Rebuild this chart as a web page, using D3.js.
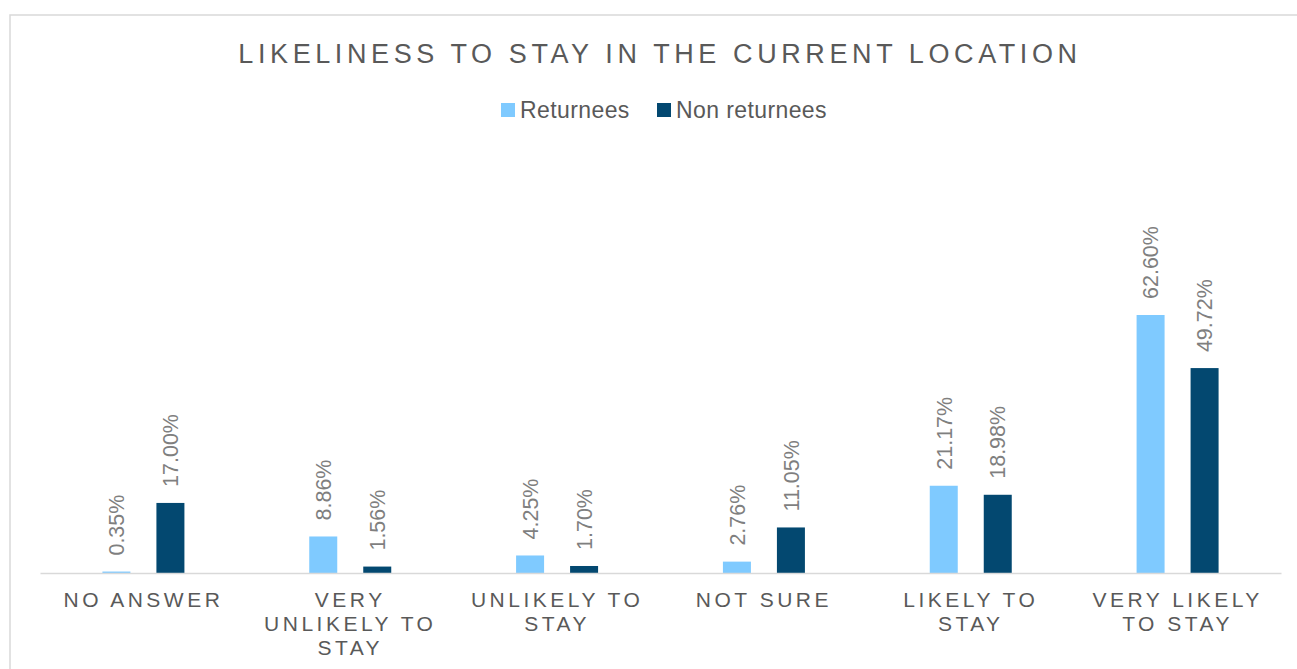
<!DOCTYPE html>
<html>
<head>
<meta charset="utf-8">
<script src="https://cdn.jsdelivr.net/npm/d3@7"></script>
<style>
  html, body { margin: 0; padding: 0; background: #fff; }
  svg { display: block; font-family: "Liberation Sans", Arial, sans-serif; }
</style>
</head>
<body>
<svg id="chart" width="1297" height="669"></svg>
<script>
// Survey answers: how likely respondents are to stay where they live now
const categories = ["NO ANSWER", "VERY UNLIKELY TO STAY", "UNLIKELY TO STAY", "NOT SURE", "LIKELY TO STAY", "VERY LIKELY TO STAY"];
const seriesNames = ["Returnees", "Non returnees"];
const returnees = [0.35, 8.86, 4.25, 2.76, 21.17, 62.60];
const nonReturnees = [17.00, 1.56, 1.70, 11.05, 18.98, 49.72];
const seriesColors = ["#7fcaff", "#034870"];

const svg = d3.select("#chart");
const W = 1297, H = 669;

// Outer frame of the chart area
svg.append("rect")
  .attr("x", 10).attr("y", 15)
  .attr("width", W + 20).attr("height", H + 20)
  .attr("fill", "#fff")
  .attr("stroke", "#d9d9d9").attr("stroke-width", 1.5);

// Title
svg.append("text")
  .attr("x", 660).attr("y", 63)
  .attr("text-anchor", "middle")
  .attr("fill", "#595959")
  .attr("font-size", 27)
  .attr("letter-spacing", 4.6)
  .text("LIKELINESS TO STAY IN THE CURRENT LOCATION");

// Scales
const x0 = d3.scaleBand().domain(categories).range([40, 1281]);
const x1 = d3.scaleBand().domain(seriesNames).range([0, x0.bandwidth()])
  .paddingInner(0.4815).paddingOuter(1.156);
const y = d3.scaleLinear().domain([0, 70]).range([573, 284.5]);

const rows = categories.map((c, i) => ({
  category: c,
  values: [
    { name: seriesNames[0], value: returnees[i] },
    { name: seriesNames[1], value: nonReturnees[i] }
  ]
}));
const color = d3.scaleOrdinal().domain(seriesNames).range(seriesColors);

const groups = svg.append("g").selectAll("g")
  .data(rows).join("g")
  .attr("transform", d => `translate(${x0(d.category)},0)`);

groups.selectAll("rect")
  .data(d => d.values).join("rect")
  .attr("x", d => x1(d.name))
  .attr("width", x1.bandwidth())
  .attr("y", d => y(d.value))
  .attr("height", d => y(0) - y(d.value))
  .attr("fill", d => color(d.name));

// Value labels, rotated above each bar
groups.selectAll("text")
  .data(d => d.values).join("text")
  .attr("transform", d => `translate(${x1(d.name) + x1.bandwidth() / 2},${y(d.value) - 16}) rotate(-90)`)
  .attr("dy", "0.36em")
  .attr("text-anchor", "start")
  .attr("fill", "#7f7f7f")
  .attr("font-size", 21.5)
  .text(d => d.value.toFixed(2) + "%");

// Category axis
const xAxis = svg.append("g")
  .attr("transform", `translate(0,${y(0)})`)
  .call(d3.axisBottom(x0).tickSize(0).tickPadding(0));
xAxis.select(".domain").attr("stroke", "#d9d9d9").attr("stroke-width", 1.5);
xAxis.selectAll(".tick text").remove();

// Wrapped category labels
const labelWidth = 190;
xAxis.selectAll(".tick").each(function (d) {
  const g = d3.select(this);
  const t = g.append("text")
    .attr("fill", "#595959")
    .attr("font-size", 21)
    .attr("letter-spacing", 3.5)
    .attr("text-anchor", "middle");
  const words = d.split(" ");
  const lines = [];
  let cur = [];
  const probe = t.append("tspan");
  words.forEach(w => {
    const trial = cur.concat(w).join(" ");
    probe.text(trial);
    if (cur.length && probe.node().getComputedTextLength() > labelWidth) {
      lines.push(cur.join(" "));
      cur = [w];
    } else {
      cur.push(w);
    }
  });
  lines.push(cur.join(" "));
  probe.remove();
  lines.forEach((ln, i) => {
    t.append("tspan").attr("x", 0).attr("y", 34 + i * 23.8).text(ln);
  });
});

// Legend
const legend = svg.append("g");
const legendX = [501, 657];
seriesNames.forEach((name, i) => {
  const g = legend.append("g").attr("transform", `translate(${legendX[i]},103)`);
  g.append("rect").attr("width", 14).attr("height", 14).attr("fill", seriesColors[i]);
  g.append("text").attr("x", 19).attr("y", 15)
    .attr("fill", "#595959").attr("font-size", 23)
    .attr("letter-spacing", 0.4)
    .text(name);
});
</script>
</body>
</html>
